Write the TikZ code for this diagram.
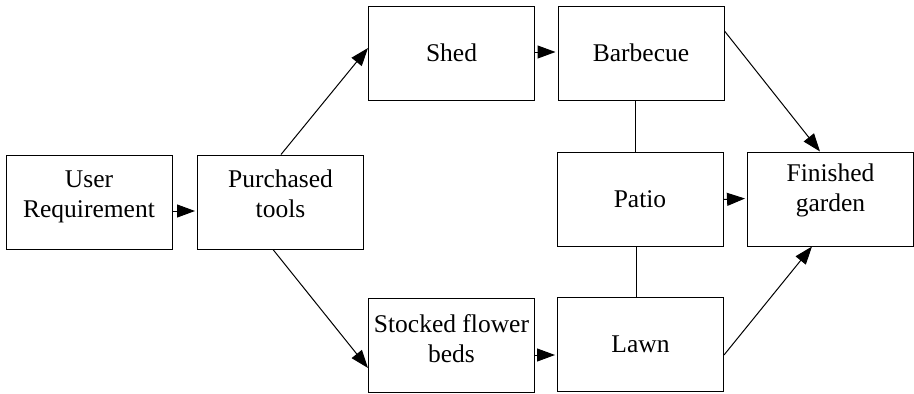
\documentclass[tikz,border=0pt]{standalone}
\usepackage{fontspec}
\setmainfont{Liberation Serif}
\usetikzlibrary{arrows.meta}
\begin{document}
\begin{tikzpicture}[x=1pt,y=-1pt,
  box/.style={draw, line width=1pt, minimum width=166pt, minimum height=94pt, inner sep=0pt},
  txt/.style={align=center, inner sep=0pt, font=\fontsize{25.5}{30}\selectfont},
  arr/.style={line width=1pt, -{Triangle[length=18pt,width=13pt]}},
  lnk/.style={line width=1pt}]
\useasboundingbox (0,0) rectangle (914,394);
\node[box] (ur) at (89,202) {};
\node[box] (pt) at (280.5,202) {};
\node[box] (shed) at (451.5,53) {};
\node[box] (bbq) at (641,53) {};
\node[box] (patio) at (640,199.5) {};
\node[box] (fin) at (830.5,199) {};
\node[box] (stock) at (451.5,345) {};
\node[box] (lawn) at (640.5,344) {};
\node[txt, yshift=5.5pt] (urt) at (ur) {User\\Requirement};
\node[txt, yshift=8pt] (ptt) at (pt) {Purchased\\tools};
\node[txt] (shedt) at (shed) {Shed};
\node[txt] (bbqt) at (bbq) {Barbecue};
\node[txt] (patiot) at (patio) {Patio};
\node[txt, yshift=8.5pt] (fint) at (fin) {Finished\\garden};
\node[txt, yshift=6.5pt] (stockt) at (stock) {Stocked flower\\beds};
\node[txt] (lawnt) at (lawn) {Lawn};
\draw[arr] ([yshift=-9pt]ur.east) -- ([yshift=-9pt,xshift=-2pt]pt.west);
\draw[arr] ([xshift=0.5pt]pt.north) -- ([yshift=5pt]shed.west);
\draw[arr] ([xshift=-7.5pt]pt.south) -- ([yshift=-23pt]stock.west);
\draw[arr] ([yshift=1pt]shed.east) -- ([yshift=1pt,xshift=-2pt]bbq.west);
\draw[arr] ([yshift=-10pt]stock.east) -- ([yshift=-11pt,xshift=-2pt]lawn.west);
\draw[arr] (patio.east) -- ([yshift=0.5pt,xshift=-2pt]fin.west);
\draw[arr] ([yshift=22pt]bbq.east) -- ([xshift=-10.5pt]fin.north);
\draw[arr] ([yshift=-11pt]lawn.east) -- ([xshift=-18.5pt]fin.south);
\draw[lnk] ([xshift=-6pt]bbq.south) -- ([xshift=-5pt]patio.north);
\draw[lnk] ([xshift=-4pt]patio.south) -- ([xshift=-4.5pt]lawn.north);
\end{tikzpicture}
\end{document}
